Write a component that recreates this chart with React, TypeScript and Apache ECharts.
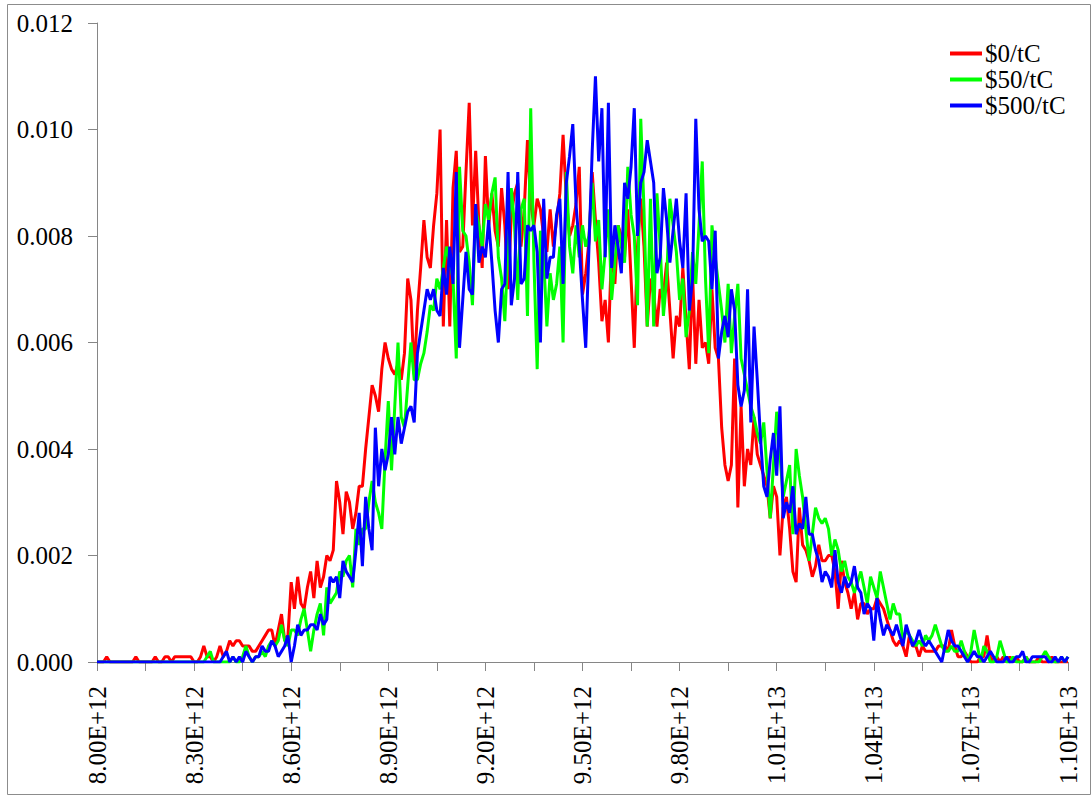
import React, { useEffect, useRef } from "react";
import * as echarts from "echarts";

// x categories: 8.00E+12 .. 1.10E+13 in steps of 1.0E+10 (301 bins)
const xStart = 8.0e12;
const xStep = 1.0e10;
const binCount = 301;
const categories: number[] = Array.from({ length: binCount }, (_, i) => xStart + i * xStep);

const xTickLabels = [
  "8.00E+12", "8.30E+12", "8.60E+12", "8.90E+12", "9.20E+12", "9.50E+12",
  "9.80E+12", "1.01E+13", "1.04E+13", "1.07E+13", "1.10E+13",
];
const yTickLabels = ["0.000", "0.002", "0.004", "0.006", "0.008", "0.010", "0.012"];

const seriesNames = ["$0/tC", "$50/tC", "$500/tC"];

const red0: number[] = [
  0, 0, 0, 0.0001, 0, 0, 0, 0, 0, 0,
  0, 0, 0.0001, 0, 0, 0, 0, 0, 0.0001, 0,
  0, 0.0001, 0.0001, 0, 0.0001, 0.0001, 0.0001, 0.0001, 0.0001, 0.0001,
  0, 0, 0.0001, 0.0003, 0.0001, 0.0001, 0, 0.0001, 0.0003, 0.0001,
  0.0002, 0.0004, 0.0003, 0.0004, 0.0004, 0.0003, 0.0003, 0.0003, 0.0002, 0.0002,
  0.0003, 0.0004, 0.0005, 0.0006, 0.0006, 0.0003, 0.0006, 0.0009, 0.0004, 0.0005,
  0.0015, 0.001, 0.0016, 0.0011, 0.001, 0.0014, 0.0017, 0.0012, 0.0019, 0.0014,
  0.0016, 0.002, 0.0019, 0.0021, 0.0034, 0.003, 0.0024, 0.0032, 0.003, 0.0025,
  0.0028, 0.0033, 0.0033, 0.004, 0.0046, 0.0052, 0.005, 0.0047, 0.0055, 0.006,
  0.0057, 0.0055, 0.0054, 0.0056, 0.0053, 0.0058, 0.0072, 0.0068, 0.0054, 0.0066,
  0.0074, 0.0083, 0.0076, 0.0074, 0.0082, 0.0088, 0.01, 0.0063, 0.0083, 0.0063,
  0.0089, 0.0096, 0.0077, 0.0078, 0.0092, 0.0105, 0.0082, 0.0096, 0.0082, 0.0074,
  0.0095, 0.0082, 0.0088, 0.0081, 0.0078, 0.0089, 0.0082, 0.007, 0.0084, 0.0088,
  0.009, 0.0078, 0.0085, 0.0098, 0.0086, 0.0082, 0.0087, 0.0085, 0.008, 0.0077,
  0.0085, 0.0078, 0.0083, 0.0088, 0.0099, 0.0087, 0.008, 0.0082, 0.0086, 0.0093,
  0.0069, 0.0073, 0.0079, 0.0092, 0.0083, 0.0075, 0.0064, 0.0068, 0.006, 0.0078,
  0.0071, 0.0082, 0.008, 0.0076, 0.0085, 0.0072, 0.0059, 0.0078, 0.0087, 0.0078,
  0.0063, 0.0072, 0.0069, 0.0063, 0.007, 0.0069, 0.0075, 0.0066, 0.0057, 0.0065,
  0.0063, 0.0074, 0.0064, 0.0055, 0.0073, 0.0056, 0.0068, 0.0059, 0.006, 0.0056,
  0.007, 0.0059, 0.0057, 0.0044, 0.0037, 0.0034, 0.0037, 0.0057, 0.0029, 0.0048,
  0.0033, 0.004, 0.0037, 0.0046, 0.0039, 0.0037, 0.0035, 0.0033, 0.0027, 0.0033,
  0.0031, 0.002, 0.0029, 0.0031, 0.0025, 0.0017, 0.0015, 0.0029, 0.0022, 0.0021,
  0.0019, 0.0016, 0.0018, 0.0022, 0.0019, 0.0019, 0.002, 0.002, 0.0017, 0.001,
  0.0019, 0.0015, 0.0013, 0.001, 0.0013, 0.0008, 0.0011, 0.0011, 0.0009, 0.001,
  0.001, 0.0012, 0.0011, 0.001, 0.0008, 0.0006, 0.0004, 0.0003, 0.0004, 0.0003,
  0.0001, 0.0005, 0.0003, 0.0003, 0.0001, 0.0003, 0.0002, 0.0002, 0.0002, 0.0002,
  0.0003, 0.0003, 0.0003, 0.0002, 0.0006, 0.0003, 0.0001, 0.0001, 0.0002, 0.0001,
  0, 0, 0, 0.0001, 0.0001, 0.0005, 0.0001, 0, 0.0001, 0,
  0.0001, 0, 0.0001, 0, 0.0001, 0, 0, 0.0001, 0, 0,
  0, 0.0001, 0, 0, 0, 0.0001, 0, 0, 0, 0,
  0,
];

const green50: number[] = [
  0, 0, 0, 0, 0, 0, 0, 0, 0, 0,
  0, 0, 0, 0, 0, 0, 0, 0, 0, 0,
  0, 0, 0, 0, 0, 0, 0, 0, 0, 0,
  0, 0, 0, 0, 0.0001, 0.0002, 0, 0, 0, 0,
  0, 0, 0.0001, 0, 0, 0.0001, 0.0003, 0.0001, 0, 0.0001,
  0.0001, 0.0002, 0.0001, 0.0003, 0.0004, 0.0003, 0.0004, 0.0007, 0.0004, 0.0003,
  0.0006, 0.0006, 0.0005, 0.0008, 0.001, 0.0006, 0.0002, 0.0006, 0.0009, 0.0011,
  0.0005, 0.0014, 0.0011, 0.0012, 0.0013, 0.0017, 0.0016, 0.0019, 0.002, 0.0014,
  0.0025, 0.0022, 0.0025, 0.0025, 0.003, 0.0034, 0.003, 0.0028, 0.0025, 0.0038,
  0.0049, 0.0036, 0.0048, 0.006, 0.0046, 0.0044, 0.0052, 0.006, 0.0053, 0.0053,
  0.0056, 0.0058, 0.0062, 0.0067, 0.0066, 0.0072, 0.007, 0.0074, 0.0078, 0.0075,
  0.0072, 0.0057, 0.0093, 0.0081, 0.008, 0.0075, 0.0067, 0.0085, 0.0082, 0.0078,
  0.0086, 0.0083, 0.0088, 0.0091, 0.0076, 0.0072, 0.0064, 0.0078, 0.0089, 0.0082,
  0.0068, 0.0085, 0.0087, 0.0065, 0.0104, 0.0075, 0.0055, 0.0081, 0.0076, 0.0063,
  0.0073, 0.0068, 0.0071, 0.0078, 0.006, 0.0092, 0.0078, 0.0073, 0.0082, 0.0076,
  0.0082, 0.0078, 0.008, 0.009, 0.0079, 0.0083, 0.007, 0.0077, 0.0085, 0.0068,
  0.0075, 0.0082, 0.0078, 0.0075, 0.0093, 0.0084, 0.008, 0.0067, 0.0102, 0.0085,
  0.0063, 0.0087, 0.0063, 0.0088, 0.0078, 0.0065, 0.0072, 0.0087, 0.0082, 0.0077,
  0.0068, 0.0072, 0.0061, 0.0066, 0.0077, 0.0071, 0.0082, 0.0094, 0.0072, 0.0058,
  0.0082, 0.0076, 0.0071, 0.0066, 0.006, 0.0071, 0.0058, 0.0065, 0.0071, 0.0057,
  0.0054, 0.0051, 0.0048, 0.0046, 0.0043, 0.0041, 0.0045, 0.0036, 0.0027, 0.0037,
  0.0047, 0.0039, 0.0031, 0.0034, 0.0037, 0.0024, 0.004, 0.0035, 0.0031, 0.0025,
  0.0019, 0.0024, 0.0029, 0.0027, 0.0026, 0.0027, 0.0025, 0.002, 0.0023, 0.0021,
  0.0017, 0.0019, 0.0016, 0.0015, 0.0013, 0.0015, 0.0017, 0.0014, 0.0011, 0.0016,
  0.0014, 0.0012, 0.0017, 0.0014, 0.0011, 0.0008, 0.0011, 0.0009, 0.0009, 0.0004,
  0.0006, 0.0005, 0.0004, 0.0003, 0.0004, 0.0003, 0.0005, 0.0004, 0.0005, 0.0007,
  0.0005, 0.0003, 0.0002, 0.0002, 0.0003, 0.0002, 0.0002, 0.0004, 0.0002, 0,
  0.0002, 0.0006, 0.0003, 0, 0.0003, 0.0002, 0, 0, 0.0001, 0.0004,
  0.0002, 0, 0, 0.0001, 0, 0, 0, 0.0001, 0, 0,
  0, 0, 0.0001, 0.0002, 0.0001, 0, 0, 0, 0.0001, 0,
  0.0001,
];

const blue500: number[] = [
  0, 0, 0, 0, 0, 0, 0, 0, 0, 0,
  0, 0, 0, 0, 0, 0, 0, 0, 0, 0,
  0, 0, 0, 0, 0, 0, 0, 0, 0, 0,
  0, 0, 0, 0, 0, 0, 0, 0, 0, 0.0001,
  0.0002, 0, 0.0001, 0, 0.0001, 0, 0.0002, 0.0001, 0, 0.0001,
  0.0001, 0.0003, 0.0002, 0.0002, 0.0004, 0.0003, 0.0001, 0.0002, 0.0003, 0.0005,
  0, 0.0003, 0.0007, 0.0005, 0.0006, 0.0006, 0.0007, 0.0007, 0.0006, 0.0009,
  0.0007, 0.0008, 0.0016, 0.0015, 0.0016, 0.0012, 0.0019, 0.0017, 0.0016, 0.0015,
  0.0021, 0.0028, 0.0018, 0.0031, 0.0025, 0.0021, 0.0044, 0.0033, 0.004, 0.0036,
  0.0039, 0.0046, 0.0039, 0.0046, 0.0041, 0.0044, 0.0047, 0.0048, 0.0045, 0.0058,
  0.0062, 0.0066, 0.007, 0.0068, 0.007, 0.0066, 0.0065, 0.0074, 0.0069, 0.0078,
  0.0071, 0.0092, 0.0059, 0.0068, 0.0077, 0.007, 0.0069, 0.0086, 0.0075, 0.0078,
  0.0076, 0.0083, 0.0075, 0.0066, 0.006, 0.007, 0.0071, 0.0092, 0.0067, 0.0072,
  0.0092, 0.0071, 0.0072, 0.0082, 0.0081, 0.0082, 0.0077, 0.006, 0.0087, 0.0072,
  0.0076, 0.0076, 0.0084, 0.0087, 0.0071, 0.009, 0.0095, 0.0101, 0.0086, 0.0078,
  0.0068, 0.0059, 0.0078, 0.0096, 0.011, 0.0094, 0.0104, 0.0076, 0.0105, 0.0074,
  0.0082, 0.0078, 0.0073, 0.009, 0.0087, 0.0093, 0.0104, 0.008, 0.009, 0.0092,
  0.0098, 0.0094, 0.009, 0.0073, 0.0076, 0.0089, 0.0083, 0.0075, 0.0081, 0.0087,
  0.0079, 0.0074, 0.0088, 0.0066, 0.0072, 0.0102, 0.0085, 0.0079, 0.008, 0.0079,
  0.007, 0.0081, 0.0057, 0.0062, 0.0065, 0.0061, 0.007, 0.0066, 0.0052, 0.0048,
  0.0051, 0.007, 0.0045, 0.0063, 0.0053, 0.0042, 0.0033, 0.0031, 0.0038, 0.0043,
  0.0035, 0.0048, 0.0027, 0.003, 0.0028, 0.0033, 0.0024, 0.0026, 0.0025, 0.0031,
  0.0024, 0.0024, 0.0021, 0.0019, 0.0015, 0.0017, 0.0016, 0.0014, 0.0021, 0.0015,
  0.0013, 0.0016, 0.0014, 0.0015, 0.0018, 0.0014, 0.0013, 0.0009, 0.0011, 0.001,
  0.0004, 0.0012, 0.0008, 0.0005, 0.0007, 0.0006, 0.0005, 0.0007, 0.0005, 0.0003,
  0.0007, 0.0005, 0.0003, 0.0004, 0.0006, 0.0004, 0.0003, 0.0004, 0.0003, 0.0002,
  0.0001, 0, 0.0003, 0.0006, 0.0004, 0.0003, 0.0003, 0.0002, 0.0001, 0,
  0.0001, 0.0002, 0.0001, 0.0001, 0, 0.0001, 0.0002, 0.0001, 0, 0,
  0, 0.0001, 0, 0, 0.0001, 0.0001, 0.0002, 0, 0, 0.0001,
  0.0001, 0.0001, 0.0001, 0.0001, 0, 0, 0.0001, 0, 0.0001, 0,
  0.0001,
];

const seriesColors = ["#ff0000", "#00ff00", "#0000ff"];
const axisColor = "#868686";
const fontFamily = "'Liberation Serif', 'Times New Roman', serif";

export default function App() {
  const ref = useRef<HTMLDivElement>(null);

  useEffect(() => {
    if (!ref.current) return;
    const chart = echarts.init(ref.current, undefined, { renderer: "svg" });
    const allSeries = [red0, green50, blue500];
    chart.setOption({
      animation: false,
      backgroundColor: "#ffffff",
      textStyle: { fontFamily },
      grid: { left: 97, right: 24, top: 23, bottom: 134, containLabel: false },
      legend: {
        orient: "vertical",
        left: 945,
        top: 36,
        itemWidth: 32,
        itemHeight: 4,
        itemGap: 1,
        icon: "rect",
        data: seriesNames,
        textStyle: { fontFamily, fontSize: 25, color: "#000", lineHeight: 25, padding: [0, 0, 0, -2] },
      },
      xAxis: {
        type: "category",
        data: categories,
        boundaryGap: false,
        axisLine: { lineStyle: { color: axisColor, width: 1 } },
        axisTick: { show: true, interval: 14, length: 9, lineStyle: { color: axisColor } },
        axisLabel: {
          interval: 29,
          rotate: 90,
          margin: 24,
          fontFamily,
          fontSize: 25,
          color: "#000",
          formatter: (_v: string, idx: number) => xTickLabels[Math.round(idx / 30)] ?? "",
        },
        splitLine: { show: false },
      },
      yAxis: {
        type: "value",
        min: 0,
        max: 0.012,
        interval: 0.002,
        axisLine: { show: true, lineStyle: { color: axisColor, width: 1 } },
        axisTick: { show: true, length: 9, lineStyle: { color: axisColor } },
        axisLabel: {
          margin: 24,
          fontFamily,
          fontSize: 25,
          color: "#000",
          formatter: (v: number) => yTickLabels[Math.round(v / 0.002)] ?? "",
        },
        splitLine: { show: false },
      },
      graphic: [
        {
          type: "rect",
          shape: { x: 7.5, y: 4.5, width: 1083, height: 790 },
          style: { fill: "none", stroke: "#8c8c8c", lineWidth: 1 },
          silent: true,
        },
      ],
      series: allSeries.map((d, k) => ({
        name: seriesNames[k],
        type: "line",
        data: d,
        showSymbol: false,
        symbol: "none",
        lineStyle: { color: seriesColors[k], width: 3 },
        itemStyle: { color: seriesColors[k] },
        z: 2 + k,
      })),
    });
    return () => chart.dispose();
  }, []);

  return (
    <div
      ref={ref}
      style={{ position: "absolute", left: 0, top: 0, width: 1092, height: 796 }}
    />
  );
}
